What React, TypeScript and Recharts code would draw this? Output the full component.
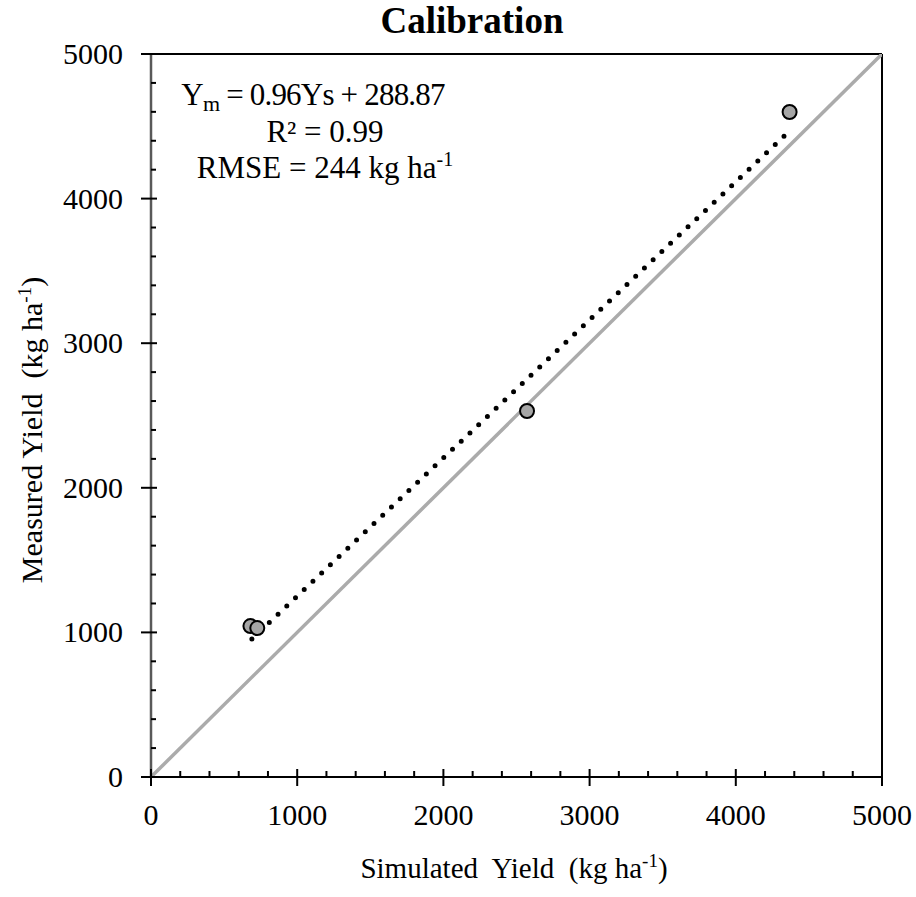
import React from 'react';
import { ComposedChart, XAxis, YAxis, Line, Scatter, ReferenceLine } from 'recharts';

// ---- data ----
const simulatedYield = [680, 727, 2572, 4368];
const measuredYield = [1044, 1030, 2531, 4599];

const trendX = [690, 4370];
const trendY = [955, 4470];

const oneToOneX = [0, 5000];
const oneToOneY = [0, 5000];

const majorTicks = [0, 1000, 2000, 3000, 4000, 5000];
const allTicks = [
  0, 200, 400, 600, 800, 1000, 1200, 1400, 1600, 1800, 2000, 2200, 2400, 2600, 2800,
  3000, 3200, 3400, 3600, 3800, 4000, 4200, 4400, 4600, 4800, 5000,
];

const titleText = 'Calibration';
const eqText = ['0.96Ys + 288.87', 'R² = 0.99', 'RMSE = 244 kg ha'];

// tables built from arrays
const points = simulatedYield.map((x, i) => ({ x, y: measuredYield[i] }));
const trend = trendX.map((x, i) => ({ x, y: trendY[i] }));
const oneToOne = oneToOneX.map((x, i) => ({ x, y: oneToOneY[i] }));

const FONT = "'Liberation Serif', 'Times New Roman', serif";

const XTick = (props: any) => {
  const { x, y, payload } = props;
  const v = payload.value;
  const major = majorTicks.includes(v);
  return (
    <g>
      {major ? (
        <line x1={x} x2={x} y1={y - 8} y2={y + 9} stroke="#000" strokeWidth={2} />
      ) : (
        <line x1={x} x2={x} y1={y - 6} y2={y} stroke="#000" strokeWidth={2} />
      )}
      {major && (
        <text x={x} y={y + 48} textAnchor="middle" fontFamily={FONT} fontSize={30} fill="#000">
          {v}
        </text>
      )}
    </g>
  );
};

const YTick = (props: any) => {
  const { x, y, payload } = props;
  const v = payload.value;
  const major = majorTicks.includes(v);
  return (
    <g>
      {major ? (
        <line x1={x - 10} x2={x + 6} y1={y} y2={y} stroke="#000" strokeWidth={2} />
      ) : (
        <line x1={x} x2={x + 5} y1={y} y2={y} stroke="#000" strokeWidth={2} />
      )}
      {major && (
        <text x={x - 28} y={y + 10} textAnchor="end" fontFamily={FONT} fontSize={30} fill="#000">
          {v}
        </text>
      )}
    </g>
  );
};

const Marker = (props: any) => {
  const { cx, cy } = props;
  return <circle cx={cx} cy={cy} r={7} fill="#a6a6a6" stroke="#000" strokeWidth={2} />;
};

export default function App() {
  return (
    <div style={{ position: 'absolute', left: 0, top: 0, width: 916, height: 897, background: '#fff' }}>
      <ComposedChart
        width={916}
        height={897}
        margin={{ top: 54, right: 34, bottom: 0, left: 0 }}
      >
        <XAxis
          dataKey="x"
          type="number"
          domain={[0, 5000]}
          ticks={allTicks}
          interval={0}
          tickSize={0}
          tickMargin={0}
          tickLine={false}
          tick={<XTick />}
          height={120}
          axisLine={{ stroke: '#000', strokeWidth: 2 }}
          allowDataOverflow
        />
        <YAxis
          dataKey="y"
          type="number"
          domain={[0, 5000]}
          ticks={allTicks}
          interval={0}
          tickSize={0}
          tickMargin={0}
          tickLine={false}
          tick={<YTick />}
          width={151}
          axisLine={{ stroke: '#595959', strokeWidth: 2.5 }}
          allowDataOverflow
        />
        <ReferenceLine y={5000} stroke="#000" strokeWidth={2} />
        <ReferenceLine x={5000} stroke="#000" strokeWidth={2} />
        <Line
          data={oneToOne}
          dataKey="y"
          stroke="#ababab"
          strokeWidth={3.5}
          dot={false}
          activeDot={false}
          isAnimationActive={false}
        />
        <Scatter data={points} dataKey="y" shape={<Marker />} isAnimationActive={false} />
        <Line
          data={trend}
          dataKey="y"
          stroke="#000"
          strokeWidth={5}
          strokeDasharray="0 12"
          strokeLinecap="round"
          dot={false}
          activeDot={false}
          isAnimationActive={false}
        />
      </ComposedChart>
      <svg
        width={916}
        height={897}
        style={{ position: 'absolute', left: 0, top: 0, pointerEvents: 'none' }}
        fontFamily={FONT}
      >
        <text x={472} y={33} textAnchor="middle" fontSize={37} fontWeight="bold" fill="#000">
          {titleText}
        </text>
        <text x={313} y={105} textAnchor="middle" fontSize={31} fill="#000" letterSpacing={-0.8}>
          Y<tspan fontSize={22} dy={6}>m</tspan>
          <tspan dy={-6}>{' = ' + eqText[0]}</tspan>
        </text>
        <text x={325} y={142} textAnchor="middle" fontSize={31} fill="#000">
          {eqText[1]}
        </text>
        <text x={325} y={178} textAnchor="middle" fontSize={31} fill="#000">
          {eqText[2]}
          <tspan fontSize={20} dy={-12}>-1</tspan>
        </text>
        <text x={514} y={878} textAnchor="middle" fontSize={29} fill="#000" style={{ whiteSpace: 'pre' }}>
          {'Simulated  Yield  (kg ha'}
          <tspan fontSize={19} dy={-11}>-1</tspan>
          <tspan dy={11}>)</tspan>
        </text>
        <text
          x={0}
          y={0}
          transform="translate(42,430) rotate(-90)"
          textAnchor="middle"
          fontSize={30}
          fill="#000"
          style={{ whiteSpace: 'pre' }}
        >
          {'Measured Yield  (kg ha'}
          <tspan fontSize={19} dy={-11}>-1</tspan>
          <tspan dy={11}>)</tspan>
        </text>
      </svg>
    </div>
  );
}
